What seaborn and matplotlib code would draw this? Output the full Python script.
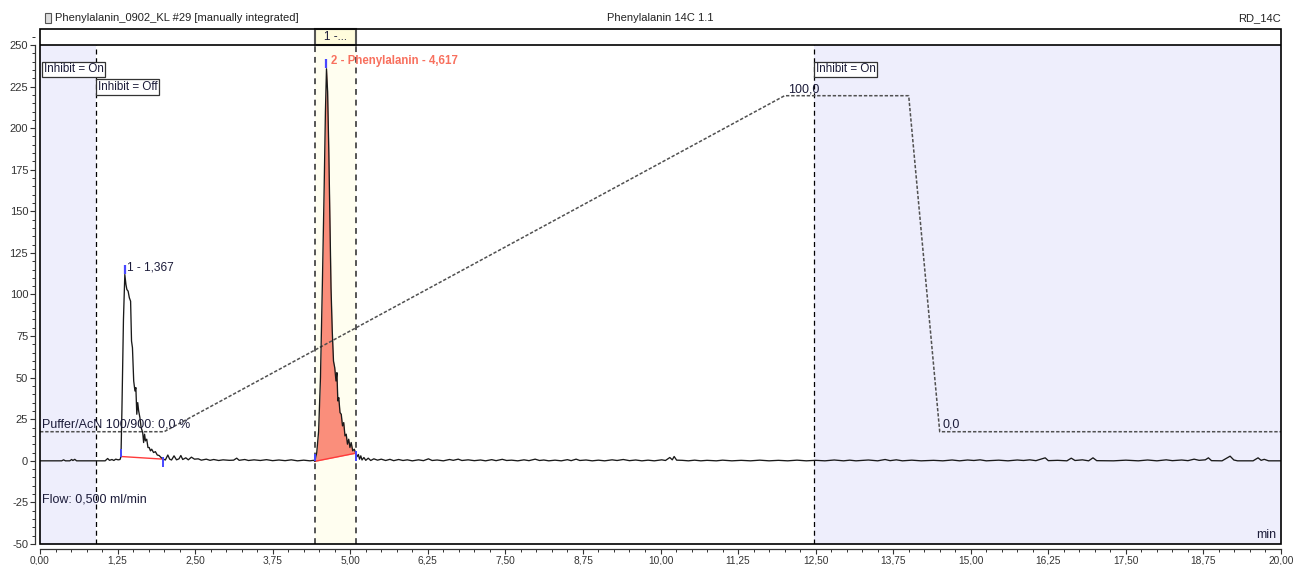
import matplotlib
matplotlib.use("Agg")
import matplotlib.pyplot as plt
from matplotlib.patches import Rectangle
from matplotlib.ticker import MultipleLocator, FuncFormatter
import numpy as np
import seaborn as sns

sns.set_theme(style="white")
plt.rcParams["font.family"] = ["Liberation Sans", "DejaVu Sans"]

# ---------------------------------------------------------------- data
header_left = "Phenylalanin_0902_KL #29 [manually integrated]"
header_center = "Phenylalanin 14C 1.1"
header_right = "RD_14C"

# detector trace (time in min, signal)
trace_time = [
    0.00, 0.20, 0.35, 0.38, 0.41, 0.48, 0.51, 0.53, 0.56, 0.59, 0.90, 1.05, 1.09, 1.12,
    1.16, 1.19, 1.22, 1.26, 1.29,
    1.305, 1.32, 1.345, 1.367, 1.385, 1.40, 1.42, 1.44, 1.46, 1.475, 1.49, 1.51, 1.53,
    1.545, 1.56, 1.575, 1.59, 1.61, 1.63, 1.655, 1.67, 1.685, 1.70, 1.72, 1.74, 1.76,
    1.78, 1.80, 1.83, 1.86, 1.89, 1.92, 1.95, 1.99,
    2.02, 2.06, 2.09, 2.12, 2.16, 2.20, 2.24, 2.27, 2.30, 2.35, 2.39, 2.44, 2.49, 2.55,
    2.60, 2.68, 2.74, 2.80, 2.88, 2.95, 3.05, 3.12, 3.17, 3.21, 3.30, 3.36, 3.45, 3.55,
    3.65, 3.75, 3.85, 3.95, 4.05, 4.15, 4.25, 4.35, 4.41,
    4.43, 4.46, 4.49, 4.52, 4.55, 4.58, 4.60, 4.617, 4.635, 4.655, 4.675, 4.69, 4.71,
    4.73, 4.75, 4.77, 4.785, 4.80, 4.815, 4.835, 4.855, 4.875, 4.895, 4.915, 4.935,
    4.955, 4.975, 4.995, 5.015, 5.04, 5.065, 5.09,
    5.11, 5.13, 5.15, 5.17, 5.19, 5.22, 5.25, 5.29, 5.33, 5.38, 5.44, 5.50, 5.57, 5.64,
    5.70, 5.78, 5.85, 5.92, 6.00, 6.10, 6.18, 6.26, 6.32, 6.40, 6.50, 6.60, 6.66, 6.74,
    6.80, 6.90, 7.00, 7.10, 7.18, 7.28, 7.35, 7.45, 7.52, 7.60, 7.70, 7.80, 7.88, 7.98,
    8.05, 8.12, 8.20, 8.30, 8.40, 8.50, 8.56, 8.64, 8.70, 8.80, 8.90, 9.00, 9.10, 9.22,
    9.30, 9.40, 9.50, 9.60, 9.70, 9.80, 9.90, 10.02, 10.08, 10.15, 10.19, 10.22, 10.26,
    10.35, 10.45, 10.55, 10.65, 10.75, 10.90, 11.00, 11.15, 11.30, 11.45, 11.60, 11.75,
    11.90, 12.05, 12.20, 12.35, 12.50, 12.65, 12.80, 12.95, 13.05, 13.15, 13.35, 13.50,
    13.62, 13.70, 13.80, 13.90, 14.05, 14.20, 14.40, 14.55, 14.70, 14.82, 14.95, 15.05,
    15.15, 15.25, 15.45, 15.60, 15.75, 15.85, 15.95, 16.05, 16.20, 16.25, 16.40, 16.55,
    16.62, 16.68, 16.80, 16.90, 16.97, 17.03, 17.30, 17.50, 17.70, 17.85, 18.00, 18.15,
    18.25, 18.40, 18.50, 18.60, 18.68, 18.78, 18.83, 18.88, 19.05, 19.18, 19.24, 19.30,
    19.55, 19.63, 19.68, 19.73, 19.80, 20.00,
]
trace_signal = [
    0.0, 0.0, 0.0, 0.6, 0.0, 0.0, 0.8, 0.2, 0.9, 0.0, 0.0, 0.0, 1.4, 0.3,
    0.8, 0.2, 1.0, 0.6, 0.8,
    2.6, 30.0, 85.0, 112.0, 106.0, 103.0, 102.0, 98.0, 96.0, 72.0, 68.0, 48.0, 42.0,
    44.0, 28.0, 35.0, 30.0, 26.0, 20.0, 17.0, 11.0, 16.0, 12.0, 13.0, 8.0, 8.0,
    6.0, 7.0, 5.0, 5.5, 3.5, 3.2, 2.0, 1.0,
    0.5, 3.5, 1.0, 0.5, 3.0, 0.6, 1.2, 3.2, 0.8, 1.8, 0.6, 2.2, 1.0, 1.2,
    0.4, 1.0, 0.3, 0.8, 0.2, 0.6, 0.3, 0.4, 1.6, 0.3, 0.8, 0.2, 0.6, 0.2,
    0.7, 0.1, 0.5, 0.1, 0.6, 0.0, 0.4, 0.0, 0.3,
    -0.3, 5.0, 17.6, 50.0, 105.0, 165.0, 210.0, 235.7, 222.0, 185.0, 140.0, 104.0, 78.0,
    60.0, 56.0, 48.0, 53.0, 36.0, 38.0, 29.0, 28.0, 21.0, 23.0, 15.0, 16.0,
    10.0, 13.0, 8.0, 11.0, 6.0, 7.0, 4.6,
    2.5, 3.8, 1.0, 3.0, 0.5, 2.0, 0.3, 1.6, 0.2, 1.2, 0.4, 1.0, 0.2, 0.9,
    0.1, 0.8, 0.2, 0.6, 0.0, 0.6, 0.1, 1.2, 0.2, 0.5, 0.0, 0.8, 0.3, 1.0,
    0.2, 0.6, 0.1, 0.5, 0.0, 0.7, 0.1, 0.9, 0.2, 0.4, 0.0, 0.6, 0.1, 1.0,
    0.2, 0.5, 0.0, 0.4, 0.0, 0.7, 0.1, 1.0, 0.2, 0.5, 0.0, 0.4, 0.0, 0.6,
    0.2, 0.8, 0.1, 0.5, 0.0, 0.4, 0.0, 0.6, 0.2, 2.0, 0.6, 2.6, 0.4,
    0.3, 0.0, 0.4, 0.0, 0.3, 0.0, 0.4, 0.0, 0.3, 0.0, 0.4, 0.0,
    0.3, 0.0, 0.4, 0.0, 0.3, 0.0, 0.5, 0.0, 0.4, 0.0, 0.5, 0.0,
    0.8, 0.1, 0.6, 0.0, 0.4, 0.0, 0.3, 0.0, 0.5, 0.0, 0.5, 0.2,
    0.6, 0.0, 0.4, 0.0, 0.5, 0.2, 0.6, 0.1, 1.8, 0.1, 0.3, 0.0,
    1.6, 0.2, 0.6, 0.0, 1.8, 0.1, 0.0, 0.4, 0.0, 0.5, 0.0, 0.6,
    0.1, 0.5, 0.1, 1.0, 0.3, 0.6, 1.8, 0.1, 0.0, 2.8, 0.5, 0.0,
    0.0, 1.8, 0.3, 0.9, 0.0, 0.0,
]

# integrated peaks
peak_labels = ["1 - 1,367", "2 - Phenylalanin - 4,617"]
peak_rt = [1.367, 4.617]
peak_height = [112.0, 235.7]
peak_start = [1.305, 4.43]
peak_end = [1.99, 5.09]
base_start = [2.6, -0.3]
base_end = [1.0, 4.6]
peak_filled = [False, True]

# gradient program (% B)
grad_time = [0.0, 2.0, 12.0, 14.0, 14.5, 20.0]
grad_pct = [0.0, 0.0, 100.0, 100.0, 0.0, 0.0]
grad_offset, grad_scale = 17.5, 2.02

# inhibit events: (start, end) of "Inhibit = On" spans
inhibit_spans = [(0.0, 0.90), (12.47, 20.0)]
inhibit_off_time = 0.90
window_range = (4.43, 5.09)
window_label = "1 -..."

x_ticks = [0, 1.25, 2.5, 3.75, 5, 6.25, 7.5, 8.75, 10, 11.25, 12.5, 13.75, 15,
           16.25, 17.5, 18.75, 20]
y_ticks = [-50, -25, 0, 25, 50, 75, 100, 125, 150, 175, 200, 225, 250]

# ---------------------------------------------------------------- figure
W, H = 1297, 565
fig = plt.figure(figsize=(W / 100, H / 100), dpi=100)
fig.patch.set_facecolor("white")
ax = fig.add_axes([40 / W, 21 / H, 1241 / W, 515 / H])
Y_MIN, Y_MAX, Y_TOP = -50, 250, 259.6
ax.set_xlim(0, 20)
ax.set_ylim(Y_MIN, Y_TOP)
ax.set_facecolor("white")

text_col = "#1c1c3a"
blue_fill = "#EEEEFC"

# shaded spans
for a, b in inhibit_spans:
    ax.fill_between([a, b], Y_MIN, Y_MAX, color=blue_fill, lw=0, zorder=0)
ax.fill_between(list(window_range), Y_MIN, Y_MAX, color="#FFFEF0", lw=0, zorder=0)

# event lines
for x in [inhibit_off_time, inhibit_spans[1][0]]:
    ax.vlines(x, Y_MIN, Y_MAX, color="black", lw=0.9, ls=(0, (4, 3)), zorder=2)
for x in window_range:
    ax.vlines(x, Y_MIN, Y_TOP, color="#555555", lw=1.4, ls=(0, (3, 2.5)), zorder=2)

# peak areas and baselines
t_arr = np.array(trace_time)
s_arr = np.array(trace_signal)
for i in range(len(peak_rt)):
    bx = [peak_start[i], peak_end[i]]
    by = [base_start[i], base_end[i]]
    if peak_filled[i]:
        m = (t_arr >= peak_start[i]) & (t_arr <= peak_end[i])
        base = np.interp(t_arr[m], bx, by)
        ax.fill_between(t_arr[m], base, s_arr[m], color="#FA8E7B", lw=0, zorder=3)
    ax.plot(bx, by, color="#FF3A3A", lw=1.0, zorder=4)

# gradient overlay
grad_disp = [grad_offset + p * grad_scale for p in grad_pct]
sns.lineplot(x=grad_time, y=grad_disp, ax=ax, color="#505050", lw=1.1,
             linestyle=(0, (2.2, 1.2)), estimator=None, sort=False, zorder=3)

# chromatogram
sns.lineplot(x=trace_time, y=trace_signal, ax=ax, color="#1a1a1a", lw=0.95,
             estimator=None, sort=False, zorder=5)

# peak markers
for i in range(len(peak_rt)):
    ax.vlines(peak_rt[i], peak_height[i] + 0.5, peak_height[i] + 6, color="#4848FF", lw=1.6, zorder=6)
    ax.vlines(peak_start[i], base_start[i], base_start[i] + 4.5, color="#4848FF", lw=1.4, zorder=6)
    ax.vlines(peak_end[i], base_end[i] - 4.5, base_end[i] + 1.5, color="#4848FF", lw=1.4, zorder=6)

ax.text(1.40, 116.5, peak_labels[0], fontsize=8.6, color=text_col, va="center", ha="left", zorder=7)
ax.text(4.69, 240.5, peak_labels[1], fontsize=8.3, color="#F8705E", fontweight="bold",
        va="center", ha="left", zorder=7)

# event labels
ann = 9
box = dict(boxstyle="square,pad=0.15", fc="white", ec="#333333", lw=0.9)
ax.text(0.06, 235.3, "Inhibit = On", fontsize=8.4, color=text_col, va="center", ha="left", bbox=box, zorder=7)
ax.text(0.93, 224.6, "Inhibit = Off", fontsize=8.4, color=text_col, va="center", ha="left", bbox=box, zorder=7)
ax.text(12.50, 235.3, "Inhibit = On", fontsize=8.4, color=text_col, va="center", ha="left", bbox=box, zorder=7)

ax.text(12.05, 223.5, "100,0", fontsize=ann, color=text_col, va="center", ha="left", zorder=7)
ax.text(14.54, 21.8, "0,0", fontsize=ann, color=text_col, va="center", ha="left", zorder=7)
ax.text(0.04, 21.8, "Puffer/AcN 100/900: 0,0 %", fontsize=ann, color=text_col, va="center", ha="left", zorder=7)
ax.text(0.04, -23.0, "Flow: 0,500 ml/min", fontsize=ann, color=text_col, va="center", ha="left", zorder=7)
ax.text(19.93, -44.5, "min", fontsize=ann, color=text_col, va="center", ha="right", zorder=7)

# window label strip above the plot area
ax.add_patch(Rectangle((window_range[0], Y_MAX), window_range[1] - window_range[0], Y_TOP - Y_MAX,
                       fc="#FFFCDC", ec="#555555", lw=1.5, zorder=6, clip_on=False))
ax.text(sum(window_range) / 2, (Y_MAX + Y_TOP) / 2, window_label, fontsize=8.4, color=text_col,
        ha="center", va="center", zorder=7)
ax.axhline(Y_MAX, color="black", lw=1.2, zorder=6)

# frame and offset axes
ax.add_patch(Rectangle((0, 0), 1, 1, transform=ax.transAxes, fill=False, ec="black",
                       lw=1.2, zorder=8, clip_on=False))
for side in ["top", "right"]:
    ax.spines[side].set_visible(False)
for side in ["left", "bottom"]:
    ax.spines[side].set_position(("outward", 3.5))
    ax.spines[side].set_color("#333333")
    ax.spines[side].set_linewidth(0.9)
ax.spines["left"].set_bounds(Y_MIN, Y_MAX)
ax.spines["bottom"].set_bounds(0, 20)

ax.set_xticks(x_ticks)
ax.set_yticks(y_ticks)
ax.xaxis.set_minor_locator(MultipleLocator(0.25))
ax.yaxis.set_minor_locator(MultipleLocator(5))
ax.xaxis.set_major_formatter(FuncFormatter(lambda v, p: f"{v:.2f}".replace(".", ",")))
ax.yaxis.set_major_formatter(FuncFormatter(lambda v, p: f"{int(round(v))}"))
ax.tick_params(axis="both", which="major", direction="out", length=3.5, width=0.8,
               color="#333333", labelcolor="#333333", pad=1.5, bottom=True, left=True)
ax.tick_params(axis="x", which="major", labelsize=7.3)
ax.tick_params(axis="y", which="major", labelsize=8)
ax.tick_params(axis="both", which="minor", direction="out", length=2, width=0.7,
               color="#333333", bottom=True, left=True)
ax.set_xlabel("")
ax.set_ylabel("")
ax.grid(False)
ax.set_ylim(Y_MIN, Y_TOP)
ax.set_xlim(0, 20)

# header
fig.patches.append(Rectangle((45 / W, 1 - 23 / H), 6 / W, 10 / H, transform=fig.transFigure,
                             fc="#dddddd", ec="#555555", lw=0.8))
fig.text(55 / W, 1 - 18 / H, header_left, fontsize=8, color="#222222", va="center", ha="left")
fig.text(660 / W, 1 - 18 / H, header_center, fontsize=8, color="#222222", va="center", ha="center")
fig.text(1281 / W, 1 - 18 / H, header_right, fontsize=8, color="#222222", va="center", ha="right")

fig.savefig("out.png", dpi=100, facecolor="white")
